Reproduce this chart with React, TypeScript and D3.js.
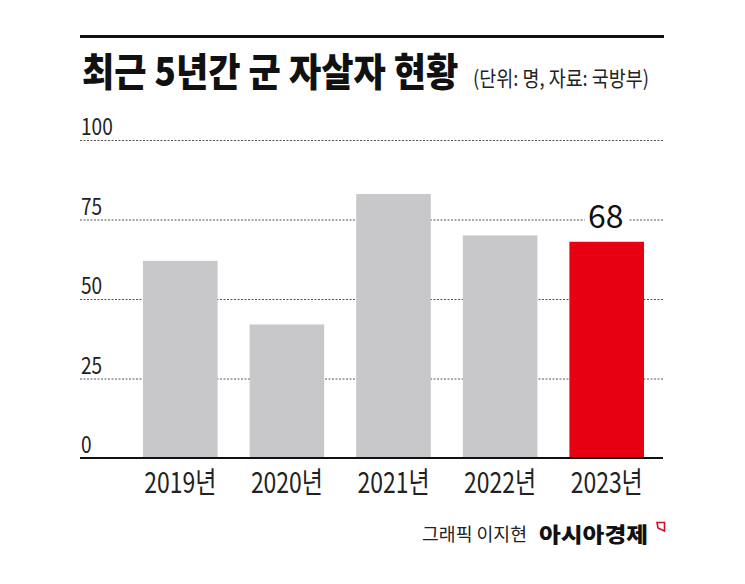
import React from "react";
import * as d3 from "d3";

const years = ["2019년", "2020년", "2021년", "2022년", "2023년"];
const deaths = [62, 42, 83, 70, 68];
const yTicks = [0, 25, 50, 75, 100];
const title = "최근 5년간 군 자살자 현황";
const subtitle = "(단위: 명, 자료: 국방부)";
const credit = "그래픽 이지현";
const brand = "아시아경제";

const W = 745;
const H = 584;
const FONT = "'Noto Sans CJK KR', 'Noto Sans', sans-serif";

export default function App() {
  const left = 80;
  const right = 663;

  const x = d3.scaleBand<string>().domain(years).range([111, 676]).paddingInner(0.3).paddingOuter(0.3);
  const y = d3.scaleLinear().domain([0, 100]).range([458, 140]);

  const last = years.length - 1;
  const lastCx = (x(years[last]) as number) + x.bandwidth() / 2;

  return (
    <svg
      width={W}
      height={H}
      style={{ position: "absolute", left: 0, top: 0, background: "#fff" }}
      fontFamily={FONT}
    >
      <rect width={W} height={H} fill="#fff" />

      {/* header */}
      <line x1={left} x2={right + 1} y1={36.5} y2={36.5} stroke="#111" strokeWidth={3} />
      <text
        transform="translate(82,86) scale(0.9,1)"
        fontSize={39}
        fontWeight={900}
        fill="#111"
      >
        {title}
      </text>
      <text
        x={473}
        y={86}
        fontSize={21}
        fill="#222"
        textLength={176}
        lengthAdjust="spacingAndGlyphs"
      >
        {subtitle}
      </text>

      {/* grid + y labels */}
      {yTicks.map((t) => (
        <g key={t}>
          {t > 0 && (
            <line
              x1={left}
              x2={right}
              y1={y(t) + 0.5}
              y2={y(t) + 0.5}
              stroke="#555"
              strokeWidth={1}
              strokeDasharray="2,1.5"
            />
          )}
          <text
            x={left + 1}
            y={y(t) - 5}
            fontSize={23}
            fill="#222"
            textLength={String(t).length * 10.6}
            lengthAdjust="spacingAndGlyphs"
          >
            {t}
          </text>
        </g>
      ))}

      {/* bars */}
      {years.map((yr, i) => (
        <rect
          key={yr}
          x={x(yr)}
          y={y(deaths[i])}
          width={x.bandwidth()}
          height={y(0) - y(deaths[i])}
          fill={i === last ? "#e60012" : "#c8c8ca"}
        />
      ))}

      {/* baseline */}
      <line x1={left} x2={right} y1={y(0)} y2={y(0)} stroke="#111" strokeWidth={2} />

      {/* x labels */}
      {years.map((yr) => (
        <text
          key={yr}
          x={(x(yr) as number) + x.bandwidth() / 2}
          y={493}
          fontSize={29}
          fill="#222"
          textAnchor="middle"
          textLength={72}
          lengthAdjust="spacingAndGlyphs"
        >
          {yr}
        </text>
      ))}

      {/* highlighted value */}
      <rect x={lastCx - 22} y={204} width={44} height={26} fill="#fff" />
      <text x={lastCx - 1} y={228} fontSize={32} fill="#111" textAnchor="middle">
        {deaths[last]}
      </text>

      {/* footer */}
      <text
        x={422}
        y={541}
        fontSize={18}
        fill="#222"
        textLength={105}
        lengthAdjust="spacingAndGlyphs"
      >
        {credit}
      </text>
      <text
        x={539}
        y={542}
        fontSize={21}
        fontWeight={900}
        fill="#111"
        textLength={109}
        lengthAdjust="spacingAndGlyphs"
      >
        {brand}
      </text>
      <path d="M657,522.5 H664.5 V531 L658,528 Z" fill="none" stroke="#d0102a" strokeWidth={1.6} />
    </svg>
  );
}
